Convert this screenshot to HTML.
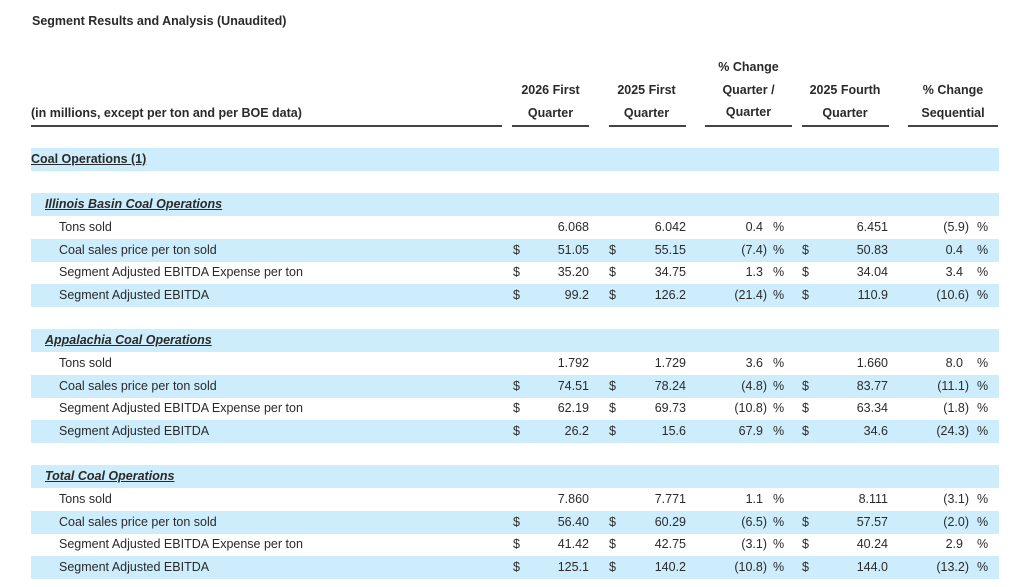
<!DOCTYPE html>
<html><head><meta charset="utf-8"><style>
body{margin:0;width:1024px;height:587px;background:#fff;font-family:"Liberation Sans",Arial,sans-serif;color:#2a2a2a;font-size:12.5px;position:relative;overflow:hidden}
.a{position:absolute;white-space:nowrap}
.b{font-weight:bold}
.h{position:absolute;font-weight:bold;text-align:center;line-height:22.5px}
.ul{position:absolute;top:125px;height:1.5px;background:#444}
.r{position:absolute;left:31px;width:968px;height:22.5px;line-height:22.5px}
.bl{background:#cdedfd}
.r span{position:absolute;top:0}
.l{left:28px}
.s{left:14px;font-weight:bold;font-style:italic;text-decoration:underline}
.d1{left:482px}.n1{right:410px}
.d2{left:578px}.n2{right:313px}
.n3{right:232px}.n3p{right:236px}.p3{left:742px}
.d4{left:771px}.n4{right:111px}
.n5{right:30px}.n5p{right:36px}.p5{left:946px}
</style></head><body>
<div class="a b" style="left:32px;top:14px">Segment Results and Analysis (Unaudited)</div>
<div class="a b" style="left:31px;top:106px">(in millions, except per ton and per BOE data)</div>
<div class="h" style="left:507px;width:87px;top:79px">2026 First<br>Quarter</div>
<div class="h" style="left:603px;width:87px;top:79px">2025 First<br>Quarter</div>
<div class="h" style="left:700px;width:97px;top:56px">% Change<br>Quarter /<br>Quarter</div>
<div class="h" style="left:797px;width:96px;top:79px">2025 Fourth<br>Quarter</div>
<div class="h" style="left:903px;width:100px;top:79px">% Change<br>Sequential</div>
<div class="ul" style="left:31px;width:471px"></div>
<div class="ul" style="left:512px;width:77px"></div>
<div class="ul" style="left:609px;width:77px"></div>
<div class="ul" style="left:705px;width:87px"></div>
<div class="ul" style="left:802px;width:87px"></div>
<div class="ul" style="left:908px;width:90px"></div>

<div class="r bl" style="top:148px"><span class="b" style="left:0;text-decoration:underline">Coal Operations (1)</span></div>

<div class="r bl" style="top:193px"><span class="s">Illinois Basin Coal Operations</span></div>
<div class="r" style="top:216px"><span class="l">Tons sold</span><span class="n1">6.068</span><span class="n2">6.042</span><span class="n3p">0.4</span><span class="p3">%</span><span class="n4">6.451</span><span class="n5">(5.9)</span><span class="p5">%</span></div>
<div class="r bl" style="top:239px"><span class="l">Coal sales price per ton sold</span><span class="d1">$</span><span class="n1">51.05</span><span class="d2">$</span><span class="n2">55.15</span><span class="n3">(7.4)</span><span class="p3">%</span><span class="d4">$</span><span class="n4">50.83</span><span class="n5p">0.4</span><span class="p5">%</span></div>
<div class="r" style="top:261px"><span class="l">Segment Adjusted EBITDA Expense per ton</span><span class="d1">$</span><span class="n1">35.20</span><span class="d2">$</span><span class="n2">34.75</span><span class="n3p">1.3</span><span class="p3">%</span><span class="d4">$</span><span class="n4">34.04</span><span class="n5p">3.4</span><span class="p5">%</span></div>
<div class="r bl" style="top:284px"><span class="l">Segment Adjusted EBITDA</span><span class="d1">$</span><span class="n1">99.2</span><span class="d2">$</span><span class="n2">126.2</span><span class="n3">(21.4)</span><span class="p3">%</span><span class="d4">$</span><span class="n4">110.9</span><span class="n5">(10.6)</span><span class="p5">%</span></div>

<div class="r bl" style="top:329px"><span class="s">Appalachia Coal Operations</span></div>
<div class="r" style="top:352px"><span class="l">Tons sold</span><span class="n1">1.792</span><span class="n2">1.729</span><span class="n3p">3.6</span><span class="p3">%</span><span class="n4">1.660</span><span class="n5p">8.0</span><span class="p5">%</span></div>
<div class="r bl" style="top:375px"><span class="l">Coal sales price per ton sold</span><span class="d1">$</span><span class="n1">74.51</span><span class="d2">$</span><span class="n2">78.24</span><span class="n3">(4.8)</span><span class="p3">%</span><span class="d4">$</span><span class="n4">83.77</span><span class="n5">(11.1)</span><span class="p5">%</span></div>
<div class="r" style="top:397px"><span class="l">Segment Adjusted EBITDA Expense per ton</span><span class="d1">$</span><span class="n1">62.19</span><span class="d2">$</span><span class="n2">69.73</span><span class="n3">(10.8)</span><span class="p3">%</span><span class="d4">$</span><span class="n4">63.34</span><span class="n5">(1.8)</span><span class="p5">%</span></div>
<div class="r bl" style="top:420px"><span class="l">Segment Adjusted EBITDA</span><span class="d1">$</span><span class="n1">26.2</span><span class="d2">$</span><span class="n2">15.6</span><span class="n3p">67.9</span><span class="p3">%</span><span class="d4">$</span><span class="n4">34.6</span><span class="n5">(24.3)</span><span class="p5">%</span></div>

<div class="r bl" style="top:465px"><span class="s">Total Coal Operations</span></div>
<div class="r" style="top:488px"><span class="l">Tons sold</span><span class="n1">7.860</span><span class="n2">7.771</span><span class="n3p">1.1</span><span class="p3">%</span><span class="n4">8.111</span><span class="n5">(3.1)</span><span class="p5">%</span></div>
<div class="r bl" style="top:511px"><span class="l">Coal sales price per ton sold</span><span class="d1">$</span><span class="n1">56.40</span><span class="d2">$</span><span class="n2">60.29</span><span class="n3">(6.5)</span><span class="p3">%</span><span class="d4">$</span><span class="n4">57.57</span><span class="n5">(2.0)</span><span class="p5">%</span></div>
<div class="r" style="top:533px"><span class="l">Segment Adjusted EBITDA Expense per ton</span><span class="d1">$</span><span class="n1">41.42</span><span class="d2">$</span><span class="n2">42.75</span><span class="n3">(3.1)</span><span class="p3">%</span><span class="d4">$</span><span class="n4">40.24</span><span class="n5p">2.9</span><span class="p5">%</span></div>
<div class="r bl" style="top:556px"><span class="l">Segment Adjusted EBITDA</span><span class="d1">$</span><span class="n1">125.1</span><span class="d2">$</span><span class="n2">140.2</span><span class="n3">(10.8)</span><span class="p3">%</span><span class="d4">$</span><span class="n4">144.0</span><span class="n5">(13.2)</span><span class="p5">%</span></div>
</body></html>
